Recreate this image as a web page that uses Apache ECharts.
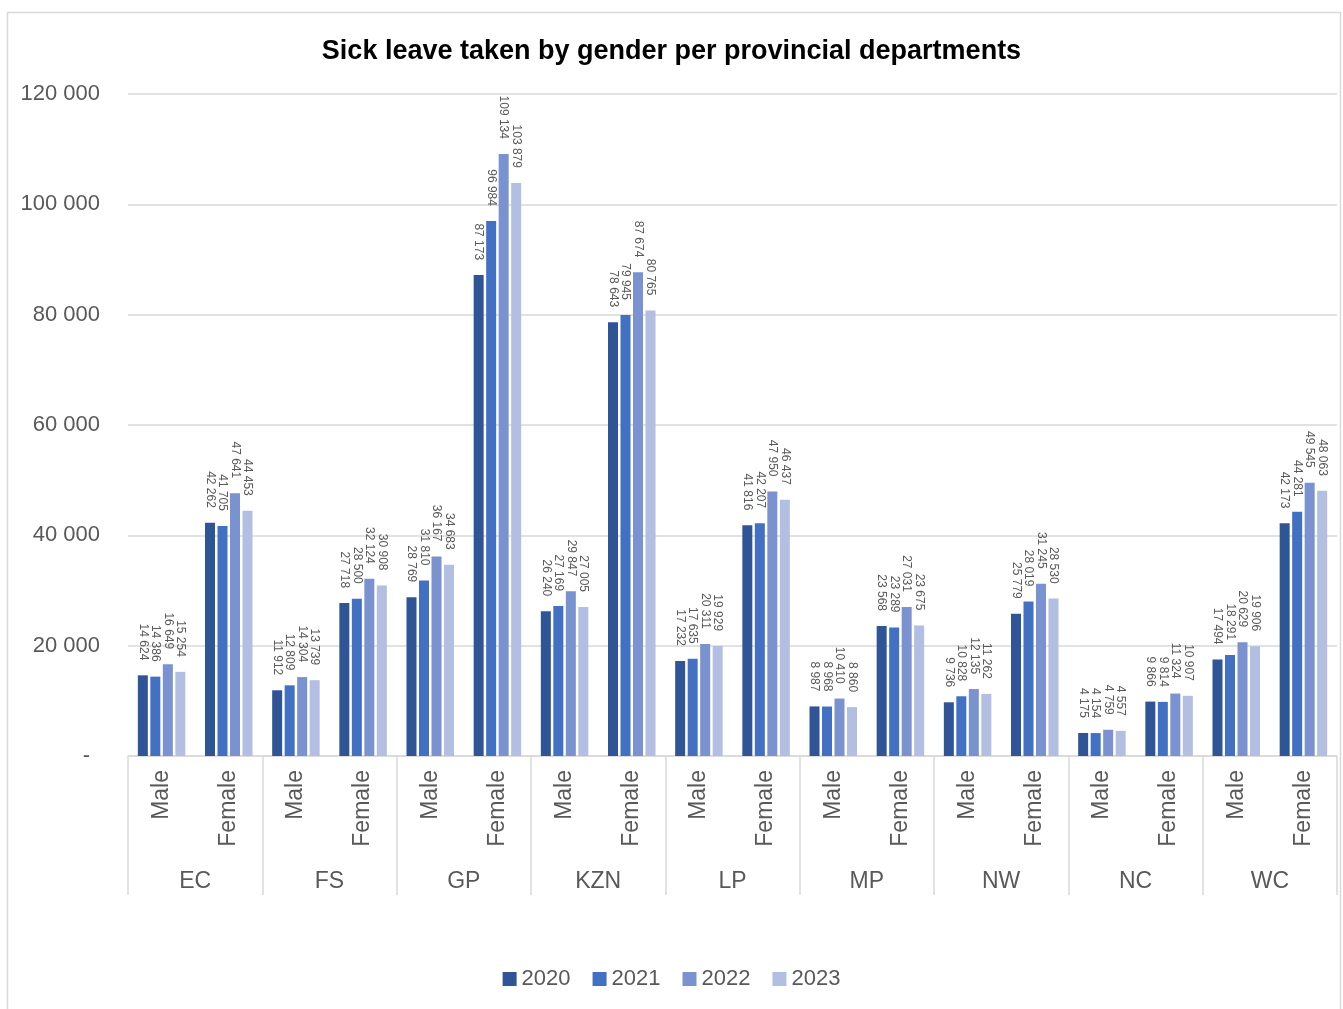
<!DOCTYPE html>
<html>
<head>
<meta charset="utf-8">
<title>Sick leave taken by gender per provincial departments</title>
<script src="https://cdn.jsdelivr.net/npm/echarts@6/dist/echarts.min.js"></script>
<style>
  html, body { margin: 0; padding: 0; background: #ffffff; }
  #chart { width: 1343px; height: 1009px; }
</style>
</head>
<body>
<div id="chart"></div>
<script>
// Provinces (outer axis level) and gender (inner axis level)
const provinces = ['EC', 'FS', 'GP', 'KZN', 'LP', 'MP', 'NW', 'NC', 'WC'];
const genders = ['Male', 'Female'];

// Sick leave counts per province/gender, in order EC Male, EC Female, FS Male, ...
const years = ['2020', '2021', '2022', '2023'];
const y2020 = [14624, 42262, 11912, 27718, 28769, 87173, 26240, 78643, 17232, 41816, 8987, 23568, 9736, 25779, 4175, 9866, 17494, 42173];
const y2021 = [14386, 41705, 12809, 28500, 31810, 96984, 27169, 79945, 17635, 42207, 8968, 23289, 10828, 28019, 4154, 9814, 18291, 44281];
const y2022 = [16649, 47641, 14304, 32124, 36167, 109134, 29847, 87674, 20311, 47950, 10410, 27031, 12135, 31245, 4759, 11324, 20629, 49545];
const y2023 = [15254, 44453, 13739, 30908, 34683, 103879, 27005, 80765, 19929, 46437, 8860, 23675, 11262, 28530, 4557, 10907, 19906, 48063];

const yTicks = { min: 0, max: 120000, interval: 20000 };

const colors = ['#2f5597', '#4270c2', '#7a92cf', '#b2bee2'];
const FONT = '"Liberation Sans", Arial, sans-serif';

const innerCats = [];
provinces.forEach(() => genders.forEach(g => innerCats.push(g)));

function spaced(v) {
  return String(v).replace(/\B(?=(\d{3})+(?!\d))/g, ' ');
}

const seriesData = [y2020, y2021, y2022, y2023];

const chart = echarts.init(document.getElementById('chart'), null, { renderer: 'canvas' });

chart.setOption({
  backgroundColor: '#ffffff',
  animation: false,
  color: colors,
  title: {
    text: 'Sick leave taken by gender per provincial departments',
    left: 'center',
    top: 38,
    padding: 0,
    textStyle: { fontFamily: FONT, fontSize: 27, fontWeight: 'bold', color: '#000000' }
  },
  legend: {
    data: years,
    bottom: 14,
    left: 'center',
    itemWidth: 14,
    itemHeight: 14,
    itemGap: 22,
    icon: 'rect',
    textStyle: { fontFamily: FONT, fontSize: 22, color: '#595959' }
  },
  grid: { left: 128, right: 6, top: 94, bottom: 253, containLabel: false },
  xAxis: [
    {
      type: 'category',
      data: innerCats,
      position: 'bottom',
      axisLine: { show: true, lineStyle: { color: '#d9d9d9', width: 1.5 } },
      axisTick: { show: false },
      axisLabel: {
        interval: 0,
        rotate: 90,
        margin: 14,
        fontFamily: FONT,
        fontSize: 23,
        color: '#595959'
      }
    },
    {
      type: 'category',
      data: provinces,
      position: 'bottom',
      axisLine: { show: false },
      axisTick: { show: true, interval: 0, length: 139, lineStyle: { color: '#d9d9d9', width: 1.5 } },
      axisLabel: {
        interval: 0,
        margin: 114,
        fontFamily: FONT,
        fontSize: 23,
        color: '#595959'
      },
      splitLine: { show: false }
    }
  ],
  yAxis: {
    type: 'value',
    min: yTicks.min,
    max: yTicks.max,
    interval: yTicks.interval,
    axisLine: { show: false },
    axisTick: { show: false },
    splitLine: { show: true, lineStyle: { color: '#d9d9d9', width: 1.5 } },
    axisLabel: {
      margin: 28,
      fontFamily: FONT,
      fontSize: 22,
      color: '#595959',
      formatter: v => v === 0 ? '{z|-}' : spaced(v),
      rich: { z: { fontFamily: FONT, fontSize: 22, color: '#595959', padding: [0, 10, 0, 0] } }
    }
  },
  series: seriesData.map((arr, i) => ({
    name: years[i],
    type: 'bar',
    xAxisIndex: 0,
    data: arr,
    barWidth: 10,
    barGap: '25%',
    itemStyle: { color: colors[i] },
    label: {
      show: true,
      position: 'top',
      rotate: -90,
      align: 'right',
      verticalAlign: 'middle',
      distance: 15,
      fontFamily: FONT,
      fontSize: 12,
      color: '#595959',
      formatter: p => spaced(p.value)
    }
  })),
  graphic: [
    {
      type: 'rect',
      left: 5,
      top: 10,
      shape: { x: 0, y: 0, width: 1333, height: 1010 },
      style: { fill: 'none', stroke: '#d9d9d9', lineWidth: 1.5 },
      silent: true,
      z: -1
    }
  ]
});
</script>
</body>
</html>
